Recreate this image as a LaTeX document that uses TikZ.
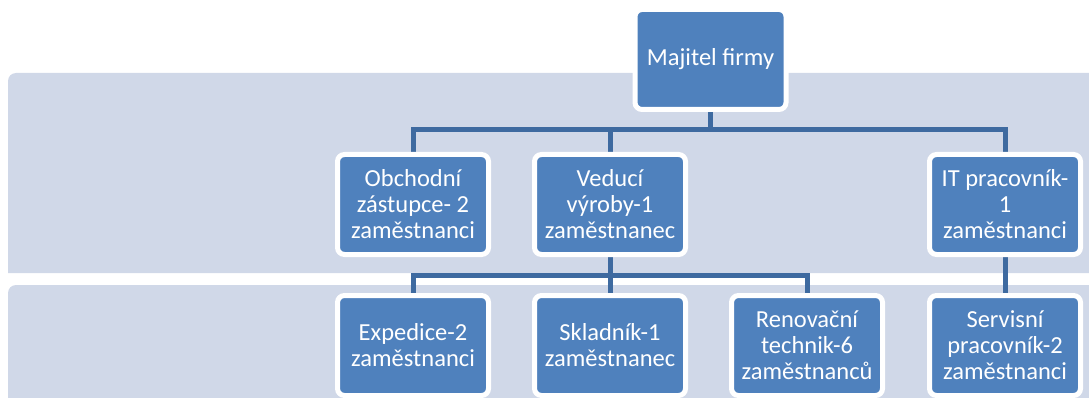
\documentclass[tikz,border=0pt]{standalone}
\usepackage{fontspec}
\setmainfont{Carlito}
\usepackage{xcolor}
\definecolor{band-gray}{HTML}{D0D8E8}
\definecolor{box-blue}{HTML}{4F81BD}
\definecolor{link-blue}{HTML}{3E6AA0}
\pgfdeclarelayer{bands}
\pgfdeclarelayer{links}
\pgfsetlayers{bands,links,main}

\begin{document}
\begin{tikzpicture}[x=1pt, y=-1pt,
      orgbox/.style={fill=box-blue, draw=white, line width=5pt,
        rounded corners=7pt, minimum width=151pt, minimum height=100pt,
        inner sep=0pt, text=white, align=center,
        font=\fontsize{24.5}{26}\selectfont},
      link/.style={draw=link-blue, line width=5pt}]
    \useasboundingbox (0,0) rectangle (1089,398);
    % bands behind the chart
    \begin{pgfonlayer}{bands}
      \fill[band-gray] (8,273) [rounded corners=8pt] -- (8,73) -- (1110,73)
            [sharp corners] -- (1110,273) -- cycle;
      \fill[band-gray] (8,420) [rounded corners=8pt] -- (8,285) -- (1110,285)
            [sharp corners] -- (1110,420) -- cycle;
    \end{pgfonlayer}
    \node[orgbox] (owner) at (710.5,59.5) {Majitel firmy};
    \node[orgbox] (sales) at (413,204.5) {Obchodní\\zástupce- 2\\zaměstnanci};
    \node[orgbox] (head) at (610,204.5) {Veducí\\výroby-1\\zaměstnanec};
    \node[orgbox] (it) at (1005,204.5) {IT pracovník-\\1\\zaměstnanci};
    \node[orgbox] (dispatch) at (413,345.5) {Expedice-2\\zaměstnanci};
    \node[orgbox] (store) at (610,345.5) {Skladník-1\\zaměstnanec};
    \node[orgbox] (renov) at (807,345.5) {Renovační\\technik-6\\zaměstnanců};
    \node[orgbox] (service) at (1005,345.5) {Servisní\\pracovník-2\\zaměstnanci};
    \coordinate (bus1) at (710.5,130);
    \coordinate (bus2) at (610,275);
    \begin{pgfonlayer}{links}
      \draw[link] (owner.south) -- (bus1);
      \draw[link] (sales.north) |- (bus1) -| (it.north);
      \draw[link] (head.north) -- (head |- bus1);
      \draw[link] (head.south) -- (bus2);
      \draw[link] (dispatch.north) |- (bus2) -| (renov.north);
      \draw[link] (store.north) -- (store |- bus2);
      \draw[link] (it.south) -- (service.north);
    \end{pgfonlayer}
  \end{tikzpicture}
\end{document}
